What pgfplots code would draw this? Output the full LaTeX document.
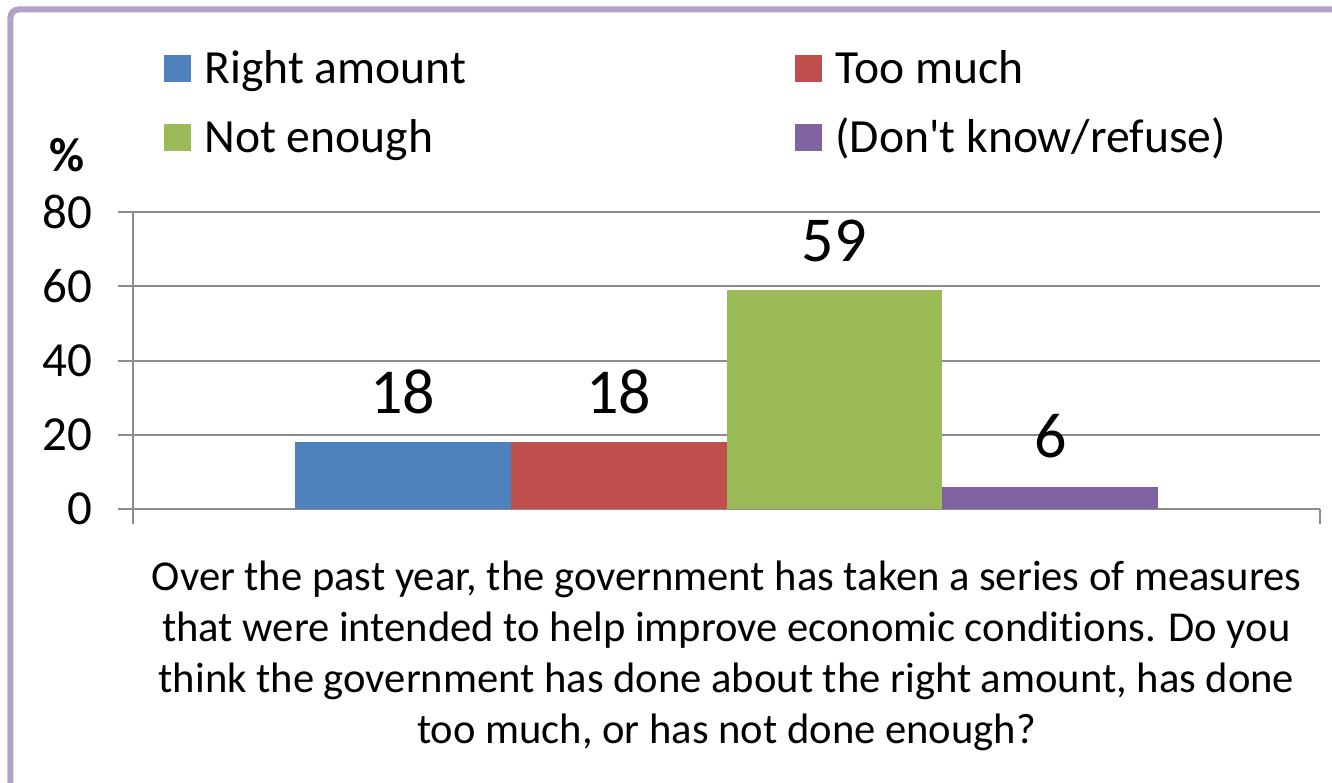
\documentclass[border=0pt]{standalone}
\usepackage{pgfplots}
\pgfplotsset{compat=1.18}
\usepackage{fontspec}
\setmainfont[Ligatures={NoCommon}]{Carlito}
\definecolor{cblue}{HTML}{4F81BD}
\definecolor{cred}{HTML}{C0504D}
\definecolor{cgreen}{HTML}{9BBB59}
\definecolor{cpurple}{HTML}{8064A2}
\definecolor{framec}{HTML}{B3A2C7}
\definecolor{gridc}{HTML}{8C8C8C}
\begin{document}
\begin{tikzpicture}
\useasboundingbox (-66.5pt,-136.5pt) rectangle (599.5pt,254.5pt);
\fill[white] (-66.5pt,-136.5pt) rectangle (599.5pt,254.5pt);
\draw[framec, line width=3pt, rounded corners=4pt] (-61.25pt,-140pt) -- (-61.25pt,249.75pt) -- (605pt,249.75pt);
\begin{axis}[
  at={(0,0)}, anchor=south west,
  scale only axis, width=593.5pt, height=148.5pt,
  xmin=-2.75, xmax=2.75, ymin=0, ymax=80,
  ybar, bar width=1,
  axis lines=left,
  axis line style={-, draw=gridc, line width=1pt},
  ytick={0,20,40,60,80},
  xtick={-2.75,2.75}, xticklabels={},
  tick align=outside, major tick length=7.5pt,
  tick style={draw=gridc, line width=1pt},
  ymajorgrids, grid style={draw=gridc, line width=1pt},
  /pgf/number format/assume math mode=true,
  yticklabel style={font=\fontsize{24.5}{29}\selectfont, inner sep=0pt, anchor=east, xshift=-12.5pt},
  nodes near coords,
  every node near coord/.append style={font=\fontsize{32}{38}\selectfont, text=black, inner sep=0pt, anchor=south, yshift=14pt},
  clip=false,
  legend columns=2,
  legend cell align=left,
  legend image code/.code={\path[#1, draw=none] (0pt,-6.75pt) rectangle (13.5pt,6.75pt);},
  legend style={draw=none, fill=none, inner sep=0pt,
    font=\fontsize{23.8}{28}\selectfont,
    nodes={inner sep=0pt, text height=20.5pt, text depth=5.5pt},
    row sep=8.5pt,
    /tikz/every odd column/.append style={column sep=6.5pt},
    at={(axis description cs:0.0261,1.5723)}, anchor=north west},
]
\addplot[fill=cblue, draw=none, bar shift=0pt] coordinates {(-1.5,18)};
\addlegendentry{\makebox[295.5pt][l]{Right amount}}
\addplot[fill=cred, draw=none, bar shift=0pt] coordinates {(-0.5,18)};
\addlegendentry{Too much}
\addplot[fill=cgreen, draw=none, bar shift=0pt] coordinates {(0.5,59)};
\addlegendentry{\makebox[295.5pt][l]{Not enough}}
\addplot[fill=cpurple, draw=none, bar shift=0pt] coordinates {(1.5,6)};
\addlegendentry{(Don\textquotesingle t know/refuse)}
\node[font=\bfseries\fontsize{24}{28}\selectfont, inner sep=0pt] at ([xshift=-33pt, yshift=28.5pt]rel axis cs:0,1) {\%};
\node[font=\fontsize{21.3}{25}\selectfont, align=center, anchor=north, inner sep=0pt] at ([yshift=-26pt]rel axis cs:0.5,0)
  {Over the past year, the government has taken a series of measures\\[0.5pt]
   that were intended to help improve economic conditions. Do you\\[0.5pt]
   think the government has done about the right amount, has done\\[0.5pt]
   too much, or has not done enough?};
\end{axis}
\end{tikzpicture}
\end{document}
